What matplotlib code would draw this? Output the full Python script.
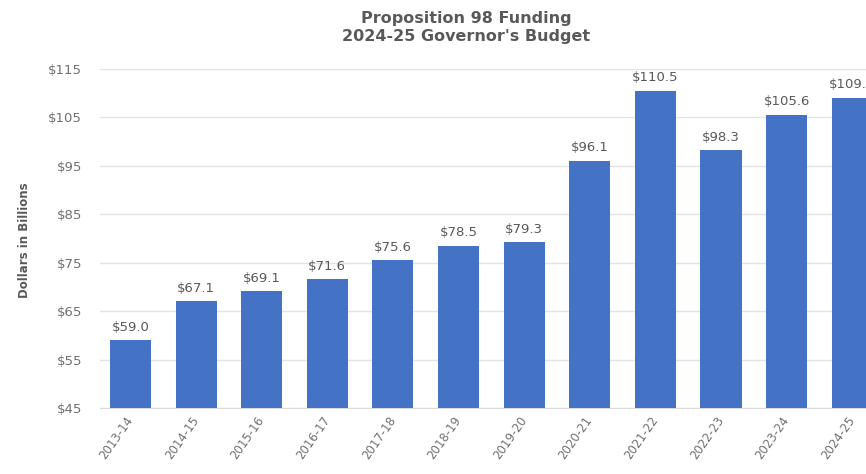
import numpy as np
import matplotlib.pyplot as plt

years = ['2013-14', '2014-15', '2015-16', '2016-17', '2017-18', '2018-19',
         '2019-20', '2020-21', '2021-22', '2022-23', '2023-24', '2024-25']
funding = [59.0, 67.1, 69.1, 71.6, 75.6, 78.5, 79.3, 96.1, 110.5, 98.3, 105.6, 109.1]
yticks = [45, 55, 65, 75, 85, 95, 105, 115]

W, H = 866, 474
fig = plt.figure(figsize=(W / 100, H / 100), dpi=100)
ax = fig.add_axes([100 / W, 1 - 408 / H, 1 - 100 / W, (408 - 69) / H])

x = np.arange(len(years))
ax.bar(x, funding, width=0.625, color='#4472C4', zorder=3)

# value labels (the last one runs off the right edge, as in the original)
for xi, v in zip(x, funding):
    ax.text(xi, v + 1.3, f'${v:.1f}', ha='center', va='bottom',
            fontsize=9.5, color='#595959', family='DejaVu Sans')

ax.set_ylim(45, 115)
ax.set_xlim(-0.465, 11.21)
ax.set_yticks(yticks)
ax.set_yticklabels([f'${t}' for t in yticks], family='DejaVu Sans',
                   fontsize=9.5, color='#707070')
ax.set_xticks(x)
ax.set_xticklabels(years, rotation=55, ha='right', va='center',
                   rotation_mode='anchor', family='DejaVu Sans',
                   fontsize=8.5, color='#707070')
ax.tick_params(length=0)
ax.tick_params(axis='y', pad=13)
ax.tick_params(axis='x', pad=7)
ax.grid(axis='y', color='#e3e3e3', linewidth=1, zorder=0)
for s in ['top', 'right', 'left']:
    ax.spines[s].set_visible(False)
ax.spines['bottom'].set_color('#d9d9d9')

fig.text(25 / W, 1 - 240 / H, 'Dollars in Billions', rotation=90,
         ha='center', va='center', fontsize=8.5, color='#595959',
         family='DejaVu Sans', fontweight='bold')
fig.text(466 / W, 1 - 27.5 / H, "Proposition 98 Funding\n2024-25 Governor's Budget",
         ha='center', va='center', fontsize=11.5, fontweight='bold',
         color='#595959', family='DejaVu Sans', linespacing=1.3)

fig.savefig('out.png', dpi=100)
